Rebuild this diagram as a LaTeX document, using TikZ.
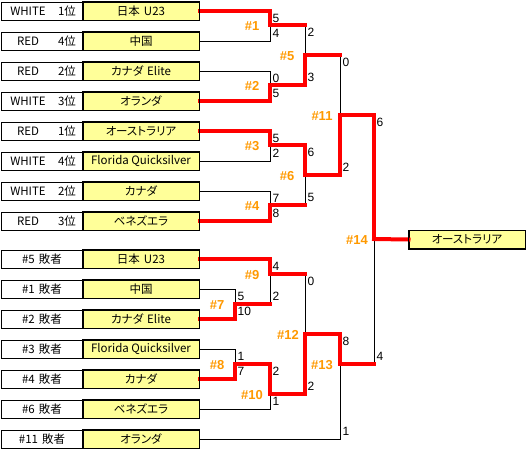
\documentclass[tikz,border=0pt]{standalone}
\usepackage{fontspec}
\setmainfont{Liberation Sans}
\newfontfamily\jp[RawFeature={+palt}]{Noto Sans CJK JP}
\definecolor{boxyellow}{HTML}{FFFF99}
\definecolor{winred}{HTML}{FF0000}
\definecolor{matchorange}{HTML}{FF9900}
\newcommand\seedtxt[2]{\makebox[50pt]{#1}\makebox[28pt]{#2位}}
\newcommand\wsp{\hspace{0.35em}}
\tikzset{
  lbox/.style={draw, line width=1pt, fill=white, minimum width=82pt, minimum height=18pt, inner sep=0pt, font=\jp\fontsize{11.5}{12}\selectfont},
  tbox/.style={draw, line width=1pt, fill=boxyellow, minimum width=116pt, minimum height=18pt, inner sep=0pt, font=\jp\fontsize{11.5}{12}\selectfont},
  bl/.style={draw=black, line width=1pt},
  rd/.style={draw=winred, line width=4pt, line cap=rect},
  sc/.style={anchor=west, inner sep=1pt, font=\fontsize{12}{12}\selectfont},
  ml/.style={inner sep=0pt, text=matchorange, font=\bfseries\fontsize{13}{14}\selectfont}
}
\begin{document}
\begin{tikzpicture}[x=1pt,y=-1pt]
\useasboundingbox (0,0) rectangle (526,450);
% match junctions
\coordinate (m1) at (270,25);
\coordinate (m2) at (270,85);
\coordinate (m3) at (270,145);
\coordinate (m4) at (270,205);
\coordinate (m5) at (305,55);
\coordinate (m6) at (305,175);
\coordinate (m11) at (340,115);
\coordinate (m7) at (235,304);
\coordinate (m8) at (235,364);
\coordinate (m9) at (270,274);
\coordinate (m10) at (270,394);
\coordinate (m12) at (305,334);
\coordinate (m13) at (340,364);
\coordinate (m14) at (374,239);
% team boxes (top)
\node[lbox] (l1) at (42,11) {\seedtxt{WHITE}{1}};
\node[tbox] (t1) at (141,11) {日本\wsp U23};
\node[lbox] (l2) at (42,41) {\seedtxt{RED}{4}};
\node[tbox] (t2) at (141,41) {中国};
\node[lbox] (l3) at (42,71) {\seedtxt{RED}{2}};
\node[tbox] (t3) at (141,71) {カナダ\wsp Elite};
\node[lbox] (l4) at (42,101) {\seedtxt{WHITE}{3}};
\node[tbox] (t4) at (141,101) {オランダ};
\node[lbox] (l5) at (42,131) {\seedtxt{RED}{1}};
\node[tbox] (t5) at (141,131) {オーストラリア};
\node[lbox] (l6) at (42,161) {\seedtxt{WHITE}{4}};
\node[tbox] (t6) at (141,161) {Florida Quicksilver};
\node[lbox] (l7) at (42,191) {\seedtxt{WHITE}{2}};
\node[tbox] (t7) at (141,191) {カナダ};
\node[lbox] (l8) at (42,221) {\seedtxt{RED}{3}};
\node[tbox] (t8) at (141,221) {ベネズエラ};
% team boxes (bottom)
\node[lbox] (k1) at (42,259) {\#5\wsp 敗者};
\node[tbox] (b1) at (141,259) {日本\wsp U23};
\node[lbox] (k2) at (42,289) {\#1\wsp 敗者};
\node[tbox] (b2) at (141,289) {中国};
\node[lbox] (k3) at (42,319) {\#2\wsp 敗者};
\node[tbox] (b3) at (141,319) {カナダ\wsp Elite};
\node[lbox] (k4) at (42,349) {\#3\wsp 敗者};
\node[tbox] (b4) at (141,349) {Florida Quicksilver};
\node[lbox] (k5) at (42,379) {\#4\wsp 敗者};
\node[tbox] (b5) at (141,379) {カナダ};
\node[lbox] (k6) at (42,409) {\#6\wsp 敗者};
\node[tbox] (b6) at (141,409) {ベネズエラ};
\node[lbox] (k7) at (42,439) {\#11\wsp 敗者};
\node[tbox] (b7) at (141,439) {オランダ};
\node[tbox] (fin) at (467,239.5) {オーストラリア};
% black bracket lines
\draw[bl] (t1.east) -| (m1); \draw[bl] (t2.east) -| (m1);
\draw[bl] (t3.east) -| (m2); \draw[bl] (t4.east) -| (m2);
\draw[bl] (t5.east) -| (m3); \draw[bl] (t6.east) -| (m3);
\draw[bl] (t7.east) -| (m4); \draw[bl] (t8.east) -| (m4);
\draw[bl] (m1) -| (m5); \draw[bl] (m2) -| (m5);
\draw[bl] (m3) -| (m6); \draw[bl] (m4) -| (m6);
\draw[bl] (m5) -| (m11); \draw[bl] (m6) -| (m11);
\draw[bl] (b2.east) -| (m7); \draw[bl] (b3.east) -| (m7);
\draw[bl] (b4.east) -| (m8); \draw[bl] (b5.east) -| (m8);
\draw[bl] (b1.east) -| (m9); \draw[bl] (m7) -| (m9);
\draw[bl] (m8) -| (m10); \draw[bl] (b6.east) -| (m10);
\draw[bl] (m9) -| (m12); \draw[bl] (m10) -| (m12);
\draw[bl] (m12) -| (m13); \draw[bl] (b7.east) -| (m13);
\draw[bl] (m11) -| (m14); \draw[bl] (m13) -| (m14);
% red winner paths
\draw[rd] (t1.east) -| (m1);
\draw[rd] (t4.east) -| (m2);
\draw[rd] (t5.east) -| (m3);
\draw[rd] (t8.east) -| (m4);
\draw[rd] (m2) -| (m5);
\draw[rd] (m3) -| (m6);
\draw[rd] (m6) -| (m11);
\draw[rd] (b3.east) -| (m7);
\draw[rd] (b5.east) -| (m8);
\draw[rd] (b1.east) -| (m9);
\draw[rd] (m8) -| (m10);
\draw[rd] (m10) -| (m12);
\draw[rd] (m12) -| (m13);
\draw[rd] (m11) -| (m14);
\draw[rd] (m1) -- (m1 -| m5);
\draw[rd] (m4) -- (m4 -| m6);
\draw[rd] (m5) -- (m5 -| m11);
\draw[rd] (m7) -- (m7 -| m9);
\draw[rd] (m9) -- (m9 -| m12);
\draw[rd] (m13) -- (m13 -| m14);
\draw[rd] (m14) -- (fin.west);
% redraw box borders on top of line ends
\foreach \n in {t1,t2,t3,t4,t5,t6,t7,t8,b1,b2,b3,b4,b5,b6,b7,fin}{\draw[line width=1pt] (\n.north west) rectangle (\n.south east);}
% scores
\node[sc] (s1a) at (271.5,18.5) {5}; \node[sc] (s1b) at (271.5,33.5) {4};
\node[sc] (s2a) at (271.5,78.5) {0}; \node[sc] (s2b) at (271.5,93.5) {5};
\node[sc] (s3a) at (271.5,138.5) {5}; \node[sc] (s3b) at (271.5,153.5) {2};
\node[sc] (s4a) at (271.5,198.5) {7}; \node[sc] (s4b) at (271.5,213.5) {8};
\node[sc] (s5a) at (306.5,32.5) {2}; \node[sc] (s5b) at (306.5,77.5) {3};
\node[sc] (s6a) at (306.5,152.5) {6}; \node[sc] (s6b) at (306.5,197.5) {5};
\node[sc] (s11a) at (341.5,62.5) {0}; \node[sc] (s11b) at (341.5,167.5) {2};
\node[sc] (s14a) at (375.5,122.5) {6}; \node[sc] (s14b) at (375.5,356.5) {4};
\node[sc] (s7a) at (236.5,296.5) {5}; \node[sc] (s7b) at (236.5,311.5) {10};
\node[sc] (s8a) at (236.5,356.5) {1}; \node[sc] (s8b) at (236.5,371.5) {7};
\node[sc] (s9a) at (271.5,266.5) {4}; \node[sc] (s9b) at (271.5,296.5) {2};
\node[sc] (s10a) at (271.5,371.5) {2}; \node[sc] (s10b) at (271.5,401.5) {1};
\node[sc] (s12a) at (306.5,281.5) {0}; \node[sc] (s12b) at (306.5,386.5) {2};
\node[sc] (s13a) at (341.5,341.5) {8}; \node[sc] (s13b) at (341.5,431.5) {1};
% match labels
\node[ml] (n1) at (252,26) {\#1};
\node[ml] (n2) at (252,86) {\#2};
\node[ml] (n3) at (252,146) {\#3};
\node[ml] (n4) at (252,206) {\#4};
\node[ml] (n5) at (287,56) {\#5};
\node[ml] (n6) at (287,176) {\#6};
\node[ml] (n11) at (322,116) {\#11};
\node[ml] (n7) at (217,305) {\#7};
\node[ml] (n8) at (217,365) {\#8};
\node[ml] (n9) at (252,275) {\#9};
\node[ml] (n10) at (252,395) {\#10};
\node[ml] (n12) at (288,335) {\#12};
\node[ml] (n13) at (322,365) {\#13};
\node[ml] (n14) at (357,240) {\#14};
\end{tikzpicture}
\end{document}
